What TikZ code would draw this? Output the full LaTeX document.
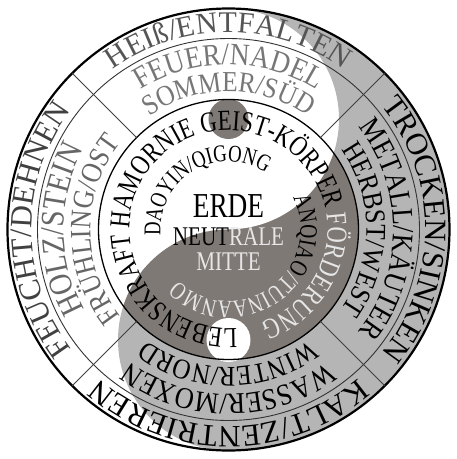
\documentclass[tikz,border=0pt]{standalone}
\usepackage{fontspec}
\setmainfont{Liberation Serif}
\newfontfamily\ringserif[FakeStretch=0.88]{Liberation Serif}
\newfontfamily\innerserif[FakeStretch=0.78]{Liberation Serif}
\usepackage{xcolor}
\definecolor{yinlight}{HTML}{B5B5B5}
\definecolor{yindark}{HTML}{7F7975}
\definecolor{paletext}{HTML}{E6E6E6}
\definecolor{softtext}{HTML}{777777}
\definecolor{midtext}{HTML}{555555}
\definecolor{greytext}{HTML}{666666}
\definecolor{deeptext}{HTML}{404040}
\usepackage{tikz}
\usetikzlibrary{decorations.text}
\tikzset{
  rim/.style={draw=black,line width=2.2pt},
  ringline/.style={draw=black!80,line width=0.9pt},
  discline/.style={draw=black,line width=1.3pt},
  divider/.style={draw=black!75,line width=0.9pt},
  centertext/.style={inner sep=0pt,anchor=base}
}
% text on a clockwise arc: [family] radius, centre angle, size, colour, text
\newcommand{\ringtext}[6][\rmfamily]{%
  \def\ringfont{#1\fontsize{#4pt}{#4pt}\selectfont}%
  \pgfmathsetmacro{\ringstart}{#3+179}%
  \pgfmathsetmacro{\ringend}{#3-179}%
  \path[decorate,decoration={text along path,text align=center,
    text={|\ringfont\color{#5}|#6}}]
    (\ringstart:#2pt) arc[start angle=\ringstart,end angle=\ringend,radius=#2pt];}

\begin{document}
\begin{tikzpicture}[x=1pt,y=1pt]
  \useasboundingbox (-228.5,-229.5) rectangle (228.5,229.5);

  % Yin-yang fill
  \fill[yinlight] (90:221pt) arc[start angle=90,end angle=-90,radius=221pt]
    arc[start angle=-90,end angle=-270,radius=110.5pt]
    arc[start angle=-90,end angle=90,radius=110.5pt] -- cycle;
  \begin{scope}
    \clip (0,0) circle[radius=130pt];
    \fill[yindark] (90:221pt) arc[start angle=90,end angle=-90,radius=221pt]
      arc[start angle=-90,end angle=-270,radius=110.5pt]
      arc[start angle=-90,end angle=90,radius=110.5pt] -- cycle;
  \end{scope}
  \fill[yindark] (0,110.5) circle[radius=20pt];
  \fill[white] (0,-110.5) circle[radius=22pt];

  % Rings and dividers
  \draw[rim] (0,0) circle[radius=221pt];
  \draw[ringline] (0,0) circle[radius=191pt];
  \draw[discline] (0,0) circle[radius=130pt];
  \foreach \a in {45,135,225,315}
    \draw[divider] (\a:130pt) -- (\a:221pt);

  % Outer ring
  \ringtext{197}{90}{30}{midtext}{HEIß/ENTFALTEN}
  \ringtext{197}{0}{31}{black}{TROCKEN/SINKEN}
  \ringtext{197}{270}{31}{black}{KALT/ZENTRIEREN}
  \ringtext{197}{180}{31}{deeptext}{FEUCHT/DEHNEN}

  % Elements
  \ringtext[\ringserif]{165}{90}{31}{softtext}{FEUER/NADEL}
  \ringtext[\ringserif]{165}{0}{30}{black}{METALL/KÄUTER}
  \ringtext[\ringserif]{165}{270}{30}{black}{WASSER/MOXEN}
  \ringtext[\ringserif]{165}{180}{33}{greytext}{HOLZ/STEIN}

  % Seasons
  \ringtext[\ringserif]{138}{90}{29}{softtext}{SOMMER/SÜD}
  \ringtext[\ringserif]{138}{0}{28.5}{black}{HERBST/WEST}
  \ringtext[\ringserif]{138}{270}{28.5}{black}{WINTER/NORD}
  \ringtext[\ringserif]{138}{180}{29.5}{greytext}{FRÜHLING/OST}

  % Inner disc
  \ringtext[\innerserif]{99}{102}{29}{black}{LEBENSKRAFT HAMORNIE GEIST-KÖRPER |\ringfont\color{paletext}|FÖRDERUNG}
  \ringtext[\innerserif]{68}{121}{24}{black}{DAOYIN/QIGONG}
  \ringtext[\innerserif]{72}{-54}{25}{black}{ANQIAO|\ringfont\color{paletext}|/TUINAANMO}

  \node[centertext,font=\innerserif\fontsize{35pt}{35pt}\selectfont] (erde) at (0,12.5) {ERDE};
  \node[centertext,font=\innerserif\fontsize{27pt}{27pt}\selectfont] (neutral) at (0,-15.5) {NEUT\textcolor{paletext}{RALE}};
  \node[centertext,font=\innerserif\fontsize{27pt}{27pt}\selectfont,text=paletext] (mitte) at (0,-40.5) {MITTE};
\end{tikzpicture}
\end{document}
